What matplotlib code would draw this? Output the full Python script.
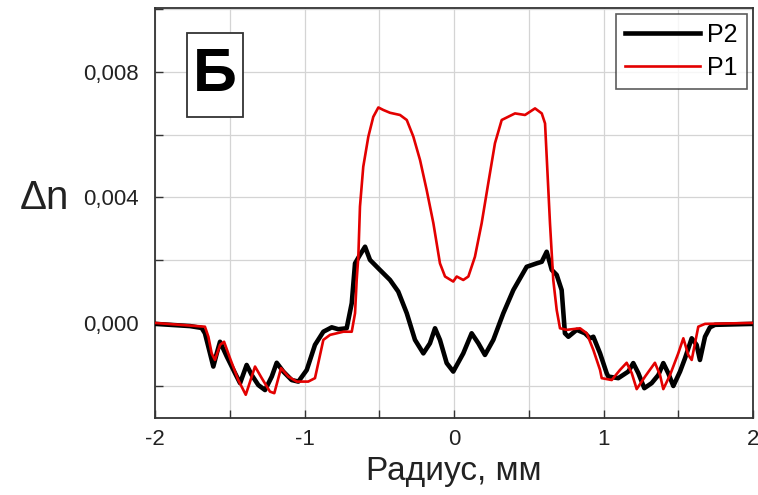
import matplotlib
matplotlib.use("Agg")
import matplotlib.pyplot as plt
from matplotlib.patches import Rectangle
from matplotlib.ticker import MultipleLocator, FixedLocator, FixedFormatter

plt.rcParams['font.family'] = ['Liberation Sans', 'DejaVu Sans']

# P2 (black) profile
r_p2 = [-2.0, -1.766, -1.688, -1.666, -1.632, -1.610, -1.587, -1.565, -1.520, -1.465,
        -1.431, -1.387, -1.353, -1.309, -1.264, -1.219, -1.186, -1.142, -1.086, -1.041,
        -0.985, -0.930, -0.874, -0.818, -0.774, -0.718, -0.684, -0.662, -0.629, -0.595,
        -0.562, -0.506, -0.428, -0.373, -0.316, -0.261, -0.205, -0.161, -0.127, -0.094,
        -0.049, -0.005, 0.062, 0.118, 0.163, 0.207, 0.263, 0.330, 0.397, 0.486,
        0.553, 0.587, 0.620, 0.654, 0.687, 0.720, 0.742, 0.765, 0.821, 0.876,
        0.910, 0.932, 0.977, 1.021, 1.032, 1.099, 1.166, 1.199, 1.233, 1.273,
        1.322, 1.367, 1.400, 1.433, 1.467, 1.512, 1.545, 1.590, 1.623, 1.645,
        1.679, 1.712, 1.746, 2.0]
dn_p2 = [-0.00003, -0.00010, -0.00016, -0.00033, -0.00097, -0.00139, -0.00097, -0.00060, -0.00107, -0.00160,
         -0.00192, -0.00134, -0.00166, -0.00198, -0.00214, -0.00171, -0.00127, -0.00155, -0.00182, -0.00187,
         -0.00150, -0.00070, -0.00028, -0.00014, -0.00020, -0.00017, 0.00063, 0.00190, 0.00217, 0.00243,
         0.00201, 0.00174, 0.00137, 0.00100, 0.00031, -0.00054, -0.00097, -0.00065, -0.00017, -0.00054,
         -0.00128, -0.00155, -0.00097, -0.00033, -0.00065, -0.00102, -0.00054, 0.00031, 0.00105, 0.00179,
         0.00190, 0.00195, 0.00227, 0.00169, 0.00153, 0.00105, -0.00033, -0.00044, -0.00022, -0.00033,
         -0.00049, -0.00044, -0.00097, -0.00160, -0.00171, -0.00176, -0.00155, -0.00128, -0.00160, -0.00208,
         -0.00192, -0.00166, -0.00128, -0.00160, -0.00201, -0.00155, -0.00113, -0.00049, -0.00070, -0.00118,
         -0.00044, -0.00014, -0.00006, -0.00003]

# P1 (red) profile
r_p1 = [-2.0, -1.666, -1.643, -1.621, -1.599, -1.565, -1.538, -1.498, -1.443, -1.393,
        -1.353, -1.331, -1.286, -1.231, -1.202, -1.157, -1.108, -1.052, -0.975, -0.930,
        -0.918, -0.874, -0.829, -0.740, -0.684, -0.662, -0.651, -0.640, -0.629, -0.607,
        -0.573, -0.540, -0.506, -0.473, -0.428, -0.361, -0.316, -0.272, -0.227, -0.183,
        -0.138, -0.094, -0.060, -0.005, 0.018, 0.062, 0.096, 0.140, 0.185, 0.229,
        0.274, 0.319, 0.408, 0.475, 0.542, 0.587, 0.609, 0.620, 0.642, 0.664,
        0.687, 0.709, 0.754, 0.843, 0.888, 0.932, 0.977, 0.988, 1.055, 1.110,
        1.155, 1.189, 1.222, 1.278, 1.344, 1.378, 1.400, 1.445, 1.500, 1.534,
        1.567, 1.590, 1.634, 1.679, 2.0]
dn_p1 = [0.0, -0.00012, -0.00044, -0.00097, -0.00118, -0.00070, -0.00060, -0.00113, -0.00182, -0.00229,
         -0.00171, -0.00139, -0.00176, -0.00219, -0.00224, -0.00144, -0.00171, -0.00187, -0.00187, -0.00176,
         -0.00150, -0.00054, -0.00038, -0.00028, -0.00028, 0.00031, 0.00137, 0.00211, 0.00371, 0.00498,
         0.00594, 0.00657, 0.00687, 0.00679, 0.00670, 0.00663, 0.00647, 0.00594, 0.00519, 0.00424,
         0.00318, 0.00190, 0.00148, 0.00132, 0.00148, 0.00137, 0.00148, 0.00211, 0.00318, 0.00445,
         0.00573, 0.00647, 0.00668, 0.00663, 0.00684, 0.00668, 0.00636, 0.00530, 0.00318, 0.00137,
         0.00041, -0.00017, -0.00022, -0.00017, -0.00033, -0.00086, -0.00150, -0.00176, -0.00182, -0.00150,
         -0.00127, -0.00160, -0.00211, -0.00171, -0.00127, -0.00166, -0.00211, -0.00166, -0.00097, -0.00049,
         -0.00102, -0.00118, -0.00012, -0.00003, 0.0]

x_ticks = [-2, -1, 0, 1, 2]
x_ticklabels = ["-2", "-1", "0", "1", "2"]
y_ticks = [0.000, 0.004, 0.008]
y_ticklabels = ["0,000", "0,004", "0,008"]

fig = plt.figure(figsize=(7.58, 4.95), dpi=100)
ax = fig.add_axes([0.2045, 0.1556, 0.7889, 0.8282])

ax.plot(r_p2, dn_p2, color='black', lw=3.3, label='P2', solid_joinstyle='round', zorder=3)
ax.plot(r_p1, dn_p1, color='#e30000', lw=1.9, label='P1', solid_joinstyle='round', zorder=4)

ax.set_xlim(-2, 2)
ax.set_ylim(-0.00303, 0.01004)

ax.xaxis.set_major_locator(FixedLocator(x_ticks))
ax.xaxis.set_major_formatter(FixedFormatter(x_ticklabels))
ax.xaxis.set_minor_locator(MultipleLocator(0.5))
ax.yaxis.set_major_locator(FixedLocator(y_ticks))
ax.yaxis.set_major_formatter(FixedFormatter(y_ticklabels))
ax.yaxis.set_minor_locator(MultipleLocator(0.002))

ax.grid(True, which='both', color='#d4d4d4', lw=0.9, zorder=0)
ax.tick_params(which='both', direction='in', length=6, width=1.0, colors='#333333',
               labelsize=16, labelcolor='#222222')
ax.tick_params(axis='x', pad=8)
ax.tick_params(axis='y', pad=12)
for s in ax.spines.values():
    s.set_color('#333333')
    s.set_linewidth(1.3)

ax.set_xlabel("Радиус, мм", fontsize=24, color='#222222', labelpad=4)
fig.text(0.058, 0.60, "Δn", fontsize=29, color='#222222', ha='center', va='center')

# panel label box
ax.add_patch(Rectangle((0.0535, 0.734), 0.0935, 0.205, transform=ax.transAxes,
                       fc='white', ec='#333333', lw=1.3, zorder=5))
ax.text(0.100, 0.835, "Б", transform=ax.transAxes, fontsize=44, fontweight='bold',
        ha='center', va='center', color='black', zorder=6)

leg = ax.legend(loc='upper right', fontsize=18, frameon=True, fancybox=False,
                edgecolor='#333333', handlelength=3.0, handletextpad=0.3,
                borderpad=0.35, labelspacing=0.35, borderaxespad=0.25)
leg.get_frame().set_linewidth(1.2)

fig.savefig("out.png", dpi=100)
